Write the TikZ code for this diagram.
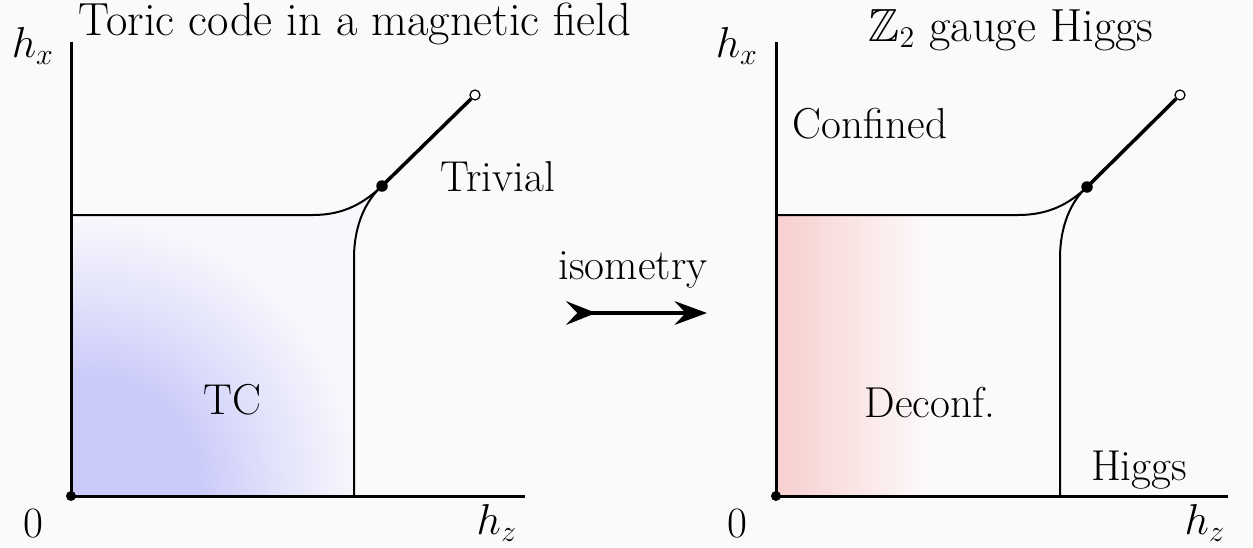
\documentclass[tikz,border=0pt]{standalone}
\usepackage{amssymb}
\usetikzlibrary{arrows.meta,shadings}
\definecolor{bg}{RGB}{250,250,250}
\definecolor{tcblue}{RGB}{202,202,250}
\definecolor{midblue}{RGB}{224,224,251}
\definecolor{paleblue}{RGB}{247,247,252}
\definecolor{dcred}{RGB}{248,208,208}
\definecolor{palered}{RGB}{252,249,249}
% 25bp of the shading = radius of the shaded circle (400 units, so 1bp = 16 units)
\pgfdeclareradialshading{tcshade}{\pgfpoint{0bp}{0bp}}{color(0bp)=(tcblue); color(7bp)=(tcblue); color(11.5bp)=(midblue); color(17bp)=(paleblue); color(50bp)=(paleblue)}
% 25bp..75bp of the shading = left..right edge of the shaded rectangle
\pgfdeclarehorizontalshading{dcshade}{100bp}{color(0bp)=(dcred); color(26bp)=(dcred); color(55bp)=(palered); color(100bp)=(palered)}
\begin{document}
\begin{tikzpicture}[x=0.4pt,y=-0.4pt,
  lbl/.style={inner sep=0pt,font=\fontsize{17.3}{20}\selectfont},
  ttl/.style={inner sep=0pt,font=\fontsize{18.6}{21}\selectfont},
  axis/.style={line width=1.2pt},
  pbound/.style={line width=0.8pt},
  critline/.style={line width=1.4pt},
  fdot/.style={circle,fill=black,inner sep=0pt,minimum size=4.6pt},
  odot/.style={circle,draw=black,fill=white,line width=0.5pt,inner sep=0pt,minimum size=4pt},
  odotsmall/.style={circle,fill=black,inner sep=0pt,minimum size=4pt},
  arr/.style={line width=1.3pt,{Stealth[reversed,length=12pt,width=9.5pt,inset=4.5pt]}-{Stealth[length=13pt,width=9.5pt,inset=4.5pt]}}]
\fill[bg] (0,0) rectangle (1253,547);
\useasboundingbox (0,0) rectangle (1253,547);

% ---------- left panel ----------
\begin{scope}
\clip (71,496) -- (71,215) -- (313,215) .. controls (345,215) and (365,202) .. (382,186)
  .. controls (366,200) and (354,225) .. (354,258) -- (354,496) -- cycle;
\fill[paleblue] (60,150) rectangle (400,500);
\shade[shading=tcshade] (85,490) circle (400);
\end{scope}
\coordinate (LO) at (71,496);
\coordinate (LY) at (71,42);
\coordinate (LX) at (525,496);
\coordinate (LH) at (71,215);
\coordinate (LV) at (354,496);
\node[fdot] (LC) at (382,186) {};
\node[odot] (LE) at (475,95) {};
\draw[pbound] (LH) -- (313,215) .. controls (345,215) and (365,202) .. (LC.center);
\draw[pbound] (LV) -- (354,258) .. controls (354,225) and (366,200) .. (LC.center);
\draw[critline] (LC.center) -- (LE);
\draw[axis] (LY) -- (LO) -- (LX);
\node[odotsmall] (LOdot) at (LO) {};
\node[lbl] (Lhx) at (33,46) {$h_x$};
\node[lbl] (L0) at (33,524) {0};
\node[lbl] (Lhz) at (497,523) {$h_z$};
\node[lbl] (TC) at (232,400) {TC};
\node[lbl] (Triv) at (498,177) {Trivial};
\node[ttl] (Ltitle) at (355,24) {Toric code in a magnetic field};

% ---------- arrow ----------
\node[lbl] (iso) at (633,270) {isometry};
\coordinate (A1) at (566,313);
\coordinate (A2) at (707,313);
\draw[arr] (A1) -- (A2);

% ---------- right panel ----------
\begin{scope}
\clip (776,496) -- (776,215) -- (1018,215) .. controls (1050,215) and (1070,203) .. (1087,187)
  .. controls (1071,201) and (1060,226) .. (1060,258) -- (1060,496) -- cycle;
\fill[palered] (760,150) rectangle (1100,500);
\shade[shading=dcshade] (776,150) rectangle (1026,500);
\end{scope}
\coordinate (RO) at (776,496);
\coordinate (RY) at (776,42);
\coordinate (RX) at (1228,496);
\coordinate (RH) at (776,215);
\coordinate (RV) at (1060,496);
\node[fdot] (RC) at (1087,187) {};
\node[odot] (RE) at (1180,95) {};
\draw[pbound] (RH) -- (1018,215) .. controls (1050,215) and (1070,203) .. (RC.center);
\draw[pbound] (RV) -- (1060,258) .. controls (1060,226) and (1071,201) .. (RC.center);
\draw[critline] (RC.center) -- (RE);
\draw[axis] (RY) -- (RO) -- (RX);
\node[odotsmall] (ROdot) at (RO) {};
\node[lbl] (Rhx) at (737,46) {$h_x$};
\node[lbl] (R0) at (737,524) {0};
\node[lbl] (Rhz) at (1205,523) {$h_z$};
\node[lbl] (Conf) at (870,124) {Confined};
\node[lbl] (Dec) at (930,402) {Deconf.};
\node[lbl] (Hig) at (1139,470) {Higgs};
\node[ttl] (Rtitle) at (1011,30) {$\mathbb{Z}_2$ gauge Higgs};
\end{tikzpicture}
\end{document}
